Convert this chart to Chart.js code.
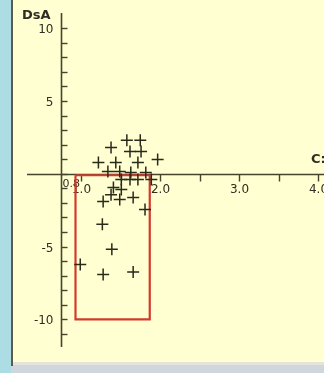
<!DOCTYPE html>
<html>
<head>
<meta charset="utf-8">
<script src="https://cdn.jsdelivr.net/npm/chart.js@4"></script>
<style>
  html, body { margin: 0; padding: 0; background: #addde4; }
  #plot { display: block; }
</style>
</head>
<body>
<canvas id="plot" width="324" height="373"></canvas>
<script>
//   <------------ Data ------------->

const pointsX = [1.58, 1.75, 1.38, 1.62, 1.76, 1.97, 1.22, 1.44, 1.72, 1.34, 1.49, 1.63, 1.82,
                 1.51, 1.62, 1.72, 1.89, 1.41, 1.51, 1.38, 1.28, 1.49, 1.66, 1.81, 1.27, 1.39,
                 0.99, 1.28, 1.66];
const pointsY = [2.30, 2.30, 1.81, 1.54, 1.54, 0.99, 0.78, 0.78, 0.78, 0.16, 0.16, 0.09, 0.09,
                 -0.39, -0.39, -0.39, -0.39, -0.94, -1.08, -1.43, -1.91, -1.77, -1.63, -2.46, -3.47, -5.19,
                 -6.23, -6.92, -6.74];

// red box limits
const boxX = [0.93, 1.87];
const boxY = [-0.1, -10];

const xTicks = [1, 1.5, 2, 2.5, 3, 3.5, 4];
const xLabels = ['1.0', '', '2.0', '', '3.0', '', '4.0'];
const yTicks = [10, 9, 8, 7, 6, 5, 4, 3, 2, 1, 0, -1, -2, -3, -4, -5, -6, -7, -8, -9, -10, -11];
const yLabels = ['10', '', '', '', '', '5', '', '', '', '', '', '', '', '', '', '-5', '', '', '', '', '-10', ''];
const crossX = 0.75;       // where the vertical axis sits
const crossLabel = '0.8';
const xTitle = 'C:';
const yTitle = 'DsA';

//   <------------ Axes + panel plugin ------------->

const axisColor = '#45452e';
const textColor = '#2e2e24';

const panelPlugin = {
  id: 'panel',
  beforeDraw(chart) {
    const c = chart.ctx;
    c.save();
    c.fillStyle = '#addde4';
    c.fillRect(0, 0, 324, 373);
    c.fillStyle = '#ffffd2';
    c.fillRect(13, 0, 311, 362);
    c.fillStyle = '#e4e4dc';
    c.fillRect(11, 362, 313, 3);
    c.fillStyle = '#cfd7dd';
    c.fillRect(11, 365, 313, 8);
    c.fillStyle = '#5a5a4c';
    c.fillRect(11, 0, 2, 366);
    c.restore();
  },
  beforeDatasetsDraw(chart) {
    const c = chart.ctx;
    const xs = chart.scales.x;
    const ys = chart.scales.y;
    const area = chart.chartArea;
    const x0 = Math.round(xs.getPixelForValue(crossX)) + 0.5;
    const y0 = Math.round(ys.getPixelForValue(0)) + 0.5;

    c.save();
    c.strokeStyle = axisColor;
    c.lineWidth = 1.6;
    c.beginPath();
    c.moveTo(area.left, y0);
    c.lineTo(area.right, y0);
    c.moveTo(x0, area.top);
    c.lineTo(x0, area.bottom);
    c.stroke();

    // y ticks go to the right of the axis
    c.lineWidth = 1.4;
    c.font = '12px "DejaVu Sans"';
    c.fillStyle = textColor;
    c.textAlign = 'right';
    c.textBaseline = 'middle';
    yTicks.forEach((v, i) => {
      const py = Math.round(ys.getPixelForValue(v)) + 0.5;
      c.beginPath();
      c.moveTo(x0, py);
      c.lineTo(x0 + 6, py);
      c.stroke();
      if (yLabels[i]) c.fillText(yLabels[i], x0 - 8, py + 1);
    });

    // x ticks hang below the axis
    c.textAlign = 'center';
    c.textBaseline = 'top';
    xTicks.forEach((v, i) => {
      const px = Math.round(xs.getPixelForValue(v)) + 0.5;
      c.beginPath();
      c.moveTo(px, y0);
      c.lineTo(px, y0 + 7);
      c.stroke();
      if (xLabels[i]) c.fillText(xLabels[i], px, y0 + 9);
    });
    c.font = '11px "DejaVu Sans"';
    c.textAlign = 'left';
    c.fillText(crossLabel, x0 + 1, y0 + 4);

    // axis titles
    c.font = 'bold 13px "DejaVu Sans"';
    c.textBaseline = 'alphabetic';
    c.fillText(yTitle, 22, 19);
    c.fillText(xTitle, 311, 163);
    c.restore();
  }
};

//   <------------ Chart ------------->

const boxPoints = [
  {x: boxX[0], y: boxY[0]},
  {x: boxX[1], y: boxY[0]},
  {x: boxX[1], y: boxY[1]},
  {x: boxX[0], y: boxY[1]},
  {x: boxX[0], y: boxY[0]}
];

const data = {
  datasets: [{
    label: 'samples',
    data: pointsX.map((x, i) => ({x: x, y: pointsY[i]})),
    pointStyle: 'cross',
    pointRadius: 6,
    pointBorderWidth: 1.5,
    borderColor: '#2a2a1c',
    backgroundColor: '#2a2a1c'
  }, {
    label: 'box',
    data: boxPoints,
    showLine: true,
    fill: false,
    pointRadius: 0,
    borderColor: '#d23a2e',
    borderWidth: 2.2,
    tension: 0
  }]
};

const config = {
  type: 'scatter',
  data: data,
  options: {
    responsive: false,
    animation: false,
    layout: {
      autoPadding: false,
      padding: {left: 27, top: 13, right: 0, bottom: 26}
    },
    plugins: {
      legend: {display: false},
      tooltip: {enabled: false}
    },
    scales: {
      x: {type: 'linear', display: false, min: 0.316, max: 4.076},
      y: {type: 'linear', display: false, min: -11.9, max: 11.05}
    }
  },
  plugins: [panelPlugin]
};

var ctx = document.getElementById('plot').getContext('2d');
var chart = new Chart(ctx, config);
</script>
</body>
</html>
